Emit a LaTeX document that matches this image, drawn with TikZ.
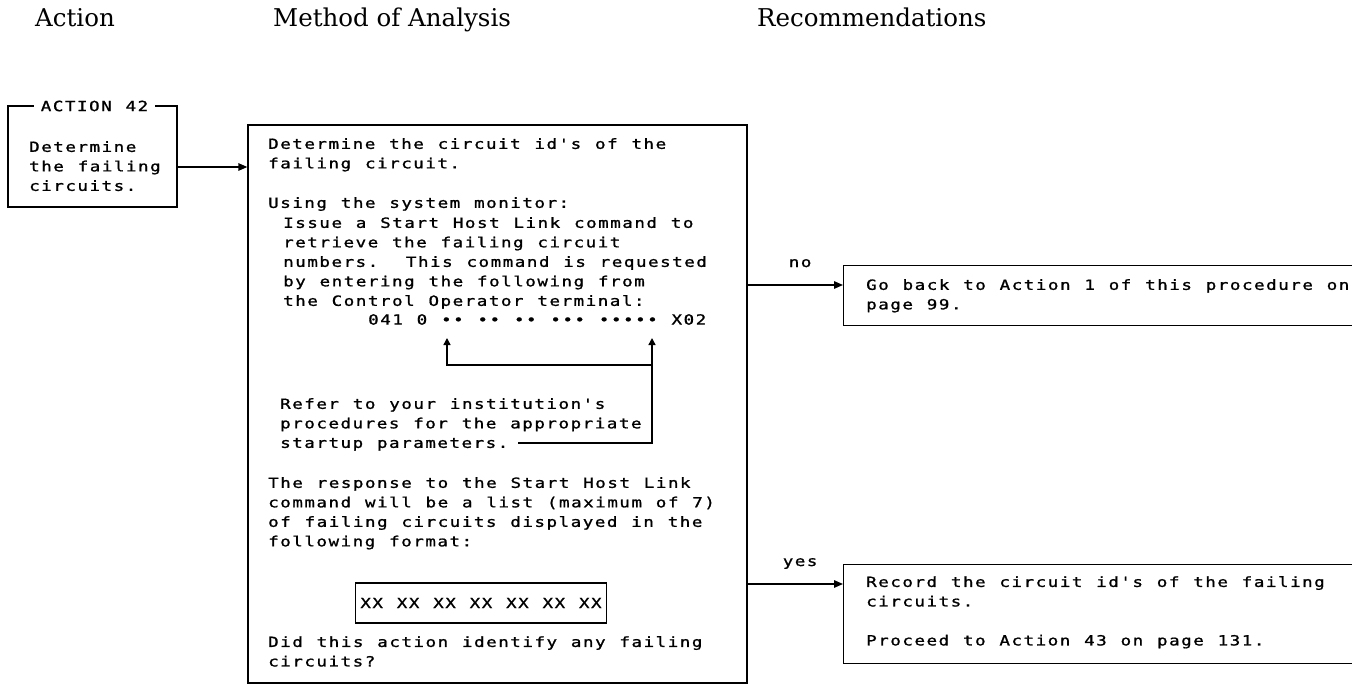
\documentclass[tikz,border=0pt]{standalone}
\usepackage{fontspec}
\setmainfont{DejaVu Serif}
\newfontfamily\ibmfont{DejaVu Sans Mono}[FakeStretch=1.25,FakeBold=1.2,LetterSpace=11,WordSpace={1.145,0,0},Ligatures=TeXOff]
\usetikzlibrary{arrows.meta, positioning}
\frenchspacing

\begin{document}
\begin{tikzpicture}[x=1pt, y=-1pt, node distance=20pt]
    \tikzstyle{head} = [anchor=base west, inner sep=0pt, font=\fontsize{24.5}{28}\selectfont]
    \tikzstyle{txt} = [anchor=north west, inner sep=0pt, align=left, font=\ibmfont\fontsize{14}{19.5}\selectfont]
    \tikzstyle{frame} = [draw, line width=1.4pt, inner sep=0pt]
    \tikzstyle{recbox} = [frame, anchor=north west, minimum width=545pt]
    \tikzstyle{link} = [line width=1.4pt, -{Triangle[length=9pt,width=7.5pt]}]
    \tikzstyle{lbl} = [txt, anchor=base, pos=.55, yshift=18pt]
    \useasboundingbox (0,0) rectangle (1352,685);

    % column heads
    \node (hAct) [head] at (35,27) {Action};
    \node (hMeth) [head] at (273,27) {Method of Analysis};
    \node (hRec) [head] at (757,27) {Recommendations};

    % action
    \node (act) [frame, minimum width=169pt, minimum height=101pt] at (92.5,156.5) {};
    \node (actlbl) [txt, anchor=center, fill=white, inner xsep=7pt, inner ysep=2pt] at (94.5,106) {ACTION 42};
    \node (acttxt) [txt] at (29,141) {Determine\\the failing\\circuits.};

    % method of analysis
    \node (meth) [frame, minimum width=499pt, minimum height=558pt] at (497.5,404) {};
    \node (m1) [txt] at (268,138) {Determine the circuit id's of the\\failing circuit.};
    \node (m2) [txt] at (268,197) {Using the system monitor:};
    \node (m3) [txt] at (283,217) {Issue a Start Host Link command to\\retrieve the failing circuit\\numbers.\ \ This command is requested\\by entering the following from\\the Control Operator terminal:};
    \node (code) [txt] at (368,314) {041 0 •• •• •• ••• ••••• X02};
    \node (m4) [txt] at (280,398) {Refer to your institution's\\procedures for the appropriate\\startup parameters.};
    \node (m5) [txt] at (268,477) {The response to the Start Host Link\\command will be a list (maximum of 7)\\of failing circuits displayed in the\\following format:};
    \node (fmt) [txt, frame, anchor=center, inner xsep=5pt, minimum height=40pt] at (481,603) {XX XX XX XX XX XX XX};
    \node (m6) [txt] at (268,636) {Did this action identify any failing\\circuits?};

    % bracket to the startup fields
    \coordinate (dotA) at (447,338);
    \coordinate (dotB) at (652,338);
    \coordinate (brA) at (447,365);
    \coordinate (brB) at (652,365);
    \coordinate (brC) at (652,443);
    \coordinate (brD) at (518,443);
    \draw [line width=1.4pt, {Triangle[length=7pt,width=7pt]}-] (dotA) -- (brA) -- (brB) -- (brC) -- (brD);
    \draw [line width=1.4pt, -{Triangle[length=7pt,width=7pt]}] (brB) -- (dotB);

    % recommendations
    \node (nobox) [recbox, minimum height=60pt] at (843,265) {};
    \node (notxt) [txt] at (866,279) {Go back to Action 1 of this procedure on\\page 99.};
    \node (yesbox) [recbox, minimum height=99pt] at (843,564) {};
    \node (yestxt) [txt] at (866,576) {Record the circuit id's of the failing\\circuits.\\\mbox{}\\Proceed to Action 43 on page 131.};

    \coordinate (lvlA) at (0,167);
    \coordinate (lvlNo) at (0,285);
    \coordinate (lvlYes) at (0,584);
    \draw [link] (act.east |- lvlA) -- (meth.west |- lvlA);
    \draw [link] (meth.east |- lvlNo) -- node[lbl] {no} (nobox.west |- lvlNo);
    \draw [link] (meth.east |- lvlYes) -- node[lbl] {yes} (yesbox.west |- lvlYes);
\end{tikzpicture}
\end{document}
